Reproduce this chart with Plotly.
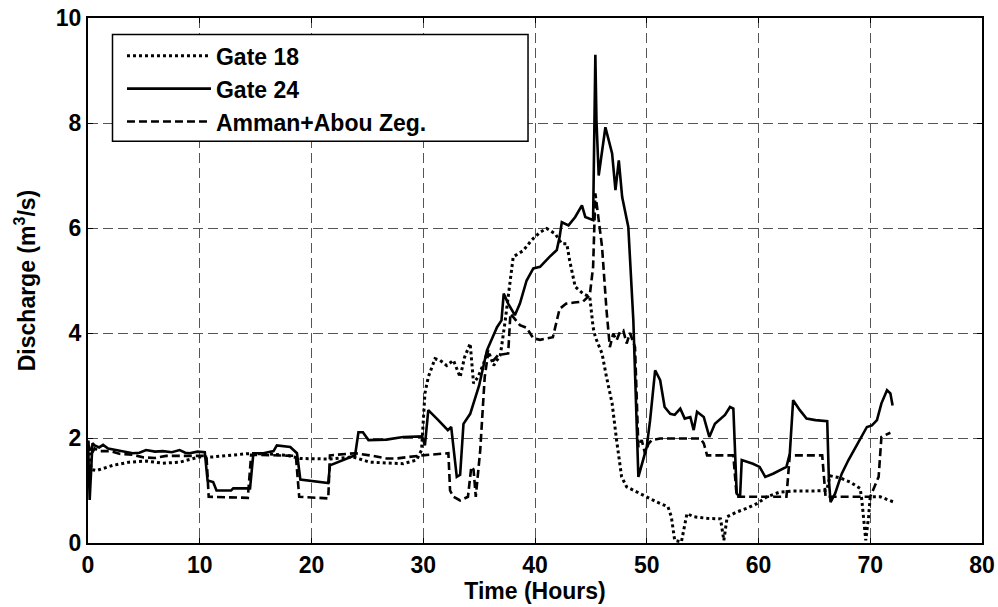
import plotly.graph_objects as go

# ---- data ----
gate24_t = [0, 0.15, 0.4, 0.6, 1.0, 1.35, 1.8, 2.25, 3.0, 4.0, 4.6, 5.2, 6.0, 6.7, 7.5, 8.2, 8.7, 9.1, 9.8, 10.45,
            10.7, 11.2, 11.5, 12.8, 13.0, 14.5, 14.8, 15.7, 16.6, 16.9, 18.1, 18.7, 19.0, 19.9, 21.5, 21.65,
            23.9, 24.2, 24.6, 25.1, 26.7, 28.2, 29.9, 30.15, 30.45, 31.3, 32.2, 32.5, 33.0, 33.3, 33.6, 34.2,
            35.0, 35.7, 36.6, 37.0, 37.2, 37.6, 38.2, 38.65, 39.25, 39.85, 40.45, 41.3, 41.95, 42.2, 42.4, 43.0,
            43.6, 44.2, 44.5, 45.2, 45.4, 45.5, 45.7, 46.3, 46.9, 47.2, 47.5, 47.8, 48.35, 48.8, 49.25, 50.0,
            50.3, 50.75, 51.2, 51.6, 52.1, 52.5, 53.0, 53.4, 53.9, 54.2, 54.5, 55.1, 55.6, 56.1, 56.6, 57.0,
            57.45, 57.75, 58.05, 58.35, 58.5, 58.95, 59.5, 60.1, 60.6, 61.3, 61.9, 62.5, 62.8, 63.1, 63.7, 64.3,
            65.1, 66.15, 66.3, 66.45, 66.85, 67.45, 68.05, 68.8, 69.4, 69.7, 70.15, 70.6, 71.0, 71.5, 71.8, 72.0]
gate24_q = [1.95, 0.82, 1.9, 1.86, 1.82, 1.87, 1.8, 1.78, 1.75, 1.71, 1.72, 1.77, 1.74, 1.75, 1.73, 1.77, 1.72, 1.71, 1.74, 1.73,
            1.19, 1.16, 1.0, 1.0, 1.04, 1.04, 1.71, 1.71, 1.75, 1.86, 1.83, 1.71, 1.21, 1.19, 1.14, 1.48,
            1.67, 2.11, 2.11, 1.96, 1.97, 2.02, 2.03, 1.86, 2.53, 2.35, 2.15, 2.21, 1.26, 1.3, 2.27, 2.46,
            3.0, 3.67, 4.11, 4.24, 4.75, 4.56, 4.34, 4.56, 5.0, 5.23, 5.26, 5.45, 5.58, 5.83, 6.11, 6.05,
            6.21, 6.43, 6.21, 6.15, 9.3, 8.05, 7.0, 7.92, 7.42, 6.72, 7.29, 6.59, 6.02, 4.24, 1.26, 1.83,
            2.34, 3.29, 3.1, 2.59, 2.46, 2.44, 2.56, 2.37, 2.4, 2.15, 2.5, 2.4, 2.02, 2.27, 2.37, 2.44,
            2.59, 2.56, 0.94, 0.88, 1.58, 1.55, 1.51, 1.45, 1.26, 1.32, 1.38, 1.45, 1.70, 2.72, 2.53, 2.37,
            2.34, 2.32, 1.2, 0.78, 0.94, 1.32, 1.58, 1.86, 2.08, 2.21, 2.24, 2.34, 2.66, 2.91, 2.85, 2.62]

amman_t = [0, 0.3, 0.6, 1.0, 2.0, 2.8, 4.0, 5.0, 6.0, 7.0, 8.5, 10.6, 10.8, 14.3, 14.6, 18.6, 18.9, 21.5, 21.65,
           23.9, 25.5, 26.7, 27.6, 29.0, 29.9, 32.25, 32.4, 32.7, 33.3, 34.0, 34.3, 34.5, 34.7, 35.1, 35.5,
           35.8, 36.3, 36.7, 37.6, 37.8, 38.65, 39.25, 39.85, 40.45, 41.6, 42.2, 42.8, 43.5, 44.3, 44.9, 45.2,
           45.4, 46.0, 46.4, 46.7, 47.0, 47.3, 47.6, 47.9, 48.2, 48.5, 48.95, 49.25, 49.55, 49.85, 50.15,
           50.45, 51.2, 54.8, 55.1, 55.4, 57.75, 58.05, 62.5, 62.8, 65.7, 66.0, 70.0, 70.4, 70.75, 71.0, 71.8]
amman_q = [1.9, 1.7, 1.8, 1.75, 1.75, 1.7, 1.68, 1.63, 1.62, 1.66, 1.66, 1.66, 0.88, 0.86, 1.68, 1.66, 0.88, 0.85, 1.67,
           1.71, 1.66, 1.61, 1.61, 1.65, 1.67, 1.71, 1.0, 0.88, 0.81, 0.88, 1.45, 1.4, 0.88, 1.77, 3.16,
           3.61, 3.48, 3.58, 3.61, 4.37, 4.15, 4.1, 3.9, 3.87, 3.92, 4.46, 4.56, 4.58, 4.6, 4.72, 5.26,
           6.66, 5.64, 4.43, 3.73, 3.99, 3.86, 4.02, 4.05, 3.8, 4.0, 3.73, 1.83, 1.96, 1.70, 1.89,
           1.96, 1.99, 1.99, 1.9, 1.67, 1.67, 0.88, 0.88, 1.67, 1.67, 0.88, 0.88, 1.1, 1.26, 2.02, 2.1]

gate18_t = [0, 0.3, 0.76, 2.25, 3.7, 5.2, 6.7, 8.2, 9.1, 10.0, 11.2, 12.7, 14.2, 16.0, 17.8, 19.0, 21.65, 23.7,
            25.2, 28.2, 29.4, 29.85, 30.15, 30.45, 31.05, 31.5, 32.1, 32.7, 33.3, 33.7, 34.2, 34.5, 34.9, 35.4,
            35.8, 36.3, 36.9, 37.3, 37.5, 38.05, 38.95, 39.7, 40.45, 41.05, 41.8, 42.4, 42.85, 43.1, 43.6,
            44.3, 44.9, 45.2, 45.4, 46.0, 46.4, 46.9, 47.3, 47.75, 48.2, 49.4, 50.0, 50.9, 51.9, 52.2, 52.5,
            53.1, 53.6, 54.2, 55.4, 56.6, 56.9, 57.2, 58.05, 58.95, 59.85, 60.75, 61.9, 63.1, 64.9, 66.1,
            66.4, 67.3, 68.2, 69.1, 69.25, 69.4, 69.6, 69.85, 70.0, 70.9, 72.1]
gate18_q = [1.95, 1.4, 1.38, 1.48, 1.54, 1.56, 1.52, 1.54, 1.59, 1.64, 1.64, 1.67, 1.70, 1.70, 1.67, 1.61, 1.6, 1.64,
            1.54, 1.51, 1.58, 1.77, 2.85, 3.16, 3.51, 3.48, 3.38, 3.48, 3.16, 3.54, 3.8, 3.04, 3.16, 3.42,
            3.67, 3.38, 3.58, 4.18, 4.5, 5.45, 5.57, 5.77, 5.92, 5.99, 5.89, 5.70, 5.70, 5.38, 4.88,
            4.75, 4.69, 4.11, 3.92, 3.61, 3.16, 2.66, 1.96, 1.26, 1.07, 0.94, 0.88, 0.78, 0.69, 0.5, 0.05,
            0.02, 0.56, 0.5, 0.47, 0.46, 0.05, 0.5, 0.59, 0.66, 0.75, 0.88, 0.97, 0.99, 0.99, 1.0,
            1.28, 1.24, 1.16, 1.04, 0.81, 0.5, 0.05, 0.5, 0.88, 0.88, 0.78]

names = ["Gate 18", "Gate 24", "Amman+Abou Zeg."]
x_ticks = [0, 10, 20, 30, 40, 50, 60, 70, 80]
y_ticks = [0, 2, 4, 6, 8, 10]

FONT = "Liberation Sans, Arial, sans-serif"
FS = 23

fig = go.Figure()
fig.add_trace(go.Scatter(x=gate18_t, y=gate18_q, mode="lines", name=names[0],
                         line=dict(color="black", width=3, dash="dot")))
fig.add_trace(go.Scatter(x=gate24_t, y=gate24_q, mode="lines", name=names[1],
                         line=dict(color="black", width=2.6)))
fig.add_trace(go.Scatter(x=amman_t, y=amman_q, mode="lines", name=names[2],
                         line=dict(color="black", width=2.6, dash="8px,4px")))

axis_common = dict(
    showline=True, linecolor="black", linewidth=2, mirror="allticks",
    ticks="inside", ticklen=5, tickwidth=1, tickcolor="black",
    showgrid=True, gridcolor="#555555", gridwidth=1, griddash="10px,5px",
    zeroline=False,
    tickfont=dict(family=FONT, size=FS, color="black", weight="bold"),
)

fig.update_xaxes(range=[0, 80], tickvals=x_ticks, **axis_common,
                 title=dict(text="Time (Hours)", font=dict(family=FONT, size=FS, color="black", weight="bold"),
                            standoff=4))
fig.update_yaxes(range=[0, 10], tickvals=y_ticks, **axis_common,
                 title=dict(text="Discharge (m<sup>3</sup>/s)",
                            font=dict(family=FONT, size=FS, color="black", weight="bold"), standoff=14))

# legend frame
fig.add_shape(type="rect", xref="paper", yref="paper", x0=0.0274, x1=0.4922, y0=0.7651, y1=0.9684,
              line=dict(color="black", width=1.5), fillcolor="white", layer="above")

fig.update_layout(
    width=998, height=607,
    margin=dict(l=88, r=16, t=18, b=64, autoexpand=False),
    paper_bgcolor="white", plot_bgcolor="white",
    font=dict(family=FONT, size=FS, color="black"),
    showlegend=True,
    legend=dict(x=0.038, y=0.969, xanchor="left", yanchor="top", bgcolor="rgba(0,0,0,0)",
                borderwidth=0, itemwidth=84, tracegroupgap=0,
                font=dict(family=FONT, size=FS, color="black", weight="bold")),
)

fig.write_html("out.html", config={"displayModeBar": False},
               post_script="document.body.style.margin='0';document.body.style.padding='0';")
